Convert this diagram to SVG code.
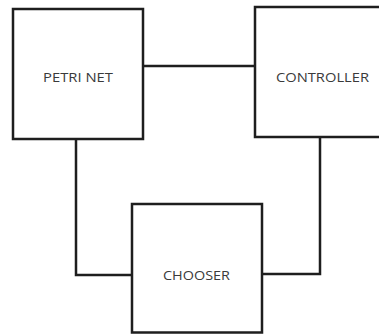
<svg xmlns="http://www.w3.org/2000/svg" width="379" height="335" viewBox="0 0 379 335">
  <style>
    .box { fill: #ffffff; stroke: #1e1e1e; stroke-width: 2.5; }
    .wire { fill: none; stroke: #1e1e1e; stroke-width: 2.5; }
    .label { font-family: "Open Sans", "Liberation Sans", sans-serif; font-size: 13.5px; fill: #3a3a3a; text-anchor: middle; }
  </style>
  <rect width="379" height="335" fill="#ffffff"/>
  <g id="connectors">
    <path class="wire" d="M143 66 H255"/>
    <path class="wire" d="M76 139 V275 H132"/>
    <path class="wire" d="M262 274 H320 V137"/>
  </g>
  <g id="petri-net">
    <rect class="box" x="13" y="9" width="130" height="130"/>
    <text class="label" x="78" y="82" textLength="70" lengthAdjust="spacingAndGlyphs">PETRI NET</text>
  </g>
  <g id="controller">
    <rect class="box" x="255" y="7" width="140" height="130"/>
    <text class="label" x="322.5" y="82" textLength="93" lengthAdjust="spacingAndGlyphs">CONTROLLER</text>
  </g>
  <g id="chooser">
    <rect class="box" x="132" y="204" width="130" height="128.5"/>
    <text class="label" x="196.5" y="280" textLength="67" lengthAdjust="spacingAndGlyphs">CHOOSER</text>
  </g>
</svg>
